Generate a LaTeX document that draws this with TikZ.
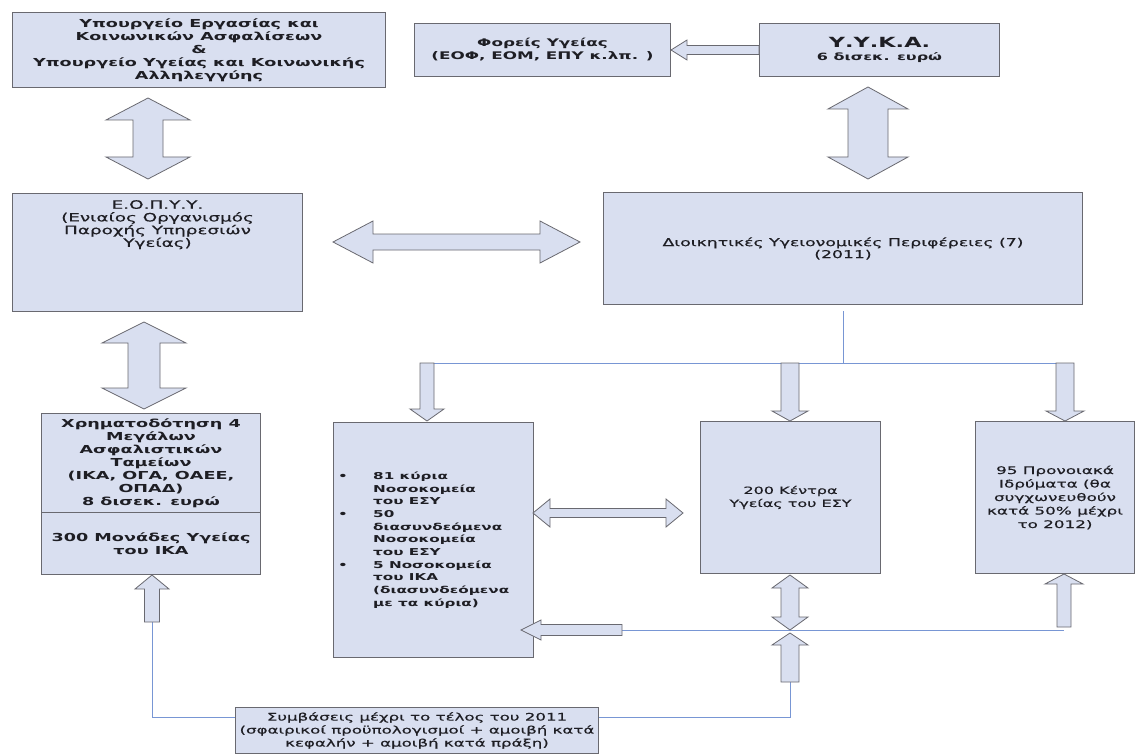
\documentclass[tikz,border=0pt]{standalone}
\usepackage{fontspec}
\setmainfont{DejaVu Sans}[FakeStretch=1.6, UprightFeatures={FakeBold=0.5}]
\usetikzlibrary{calc}
\definecolor{boxfill}{RGB}{217,223,240}
\definecolor{boxline}{RGB}{105,105,112}
\definecolor{linkblue}{RGB}{120,150,212}
\definecolor{inkgrey}{RGB}{30,30,36}
% block arrows: tail, tip, shaft half width, head half width, head length
\newcommand{\onearrow}[5]{%
  \coordinate (ta) at #1; \coordinate (tb) at #2;
  \coordinate (hb) at ($(tb)!#5pt!(ta)$);
  \draw[bigarrow] ($(ta)!#3pt!90:(tb)$) -- ($(hb)!#3pt!90:(tb)$) -- ($(hb)!#4pt!90:(tb)$)
    -- (tb) -- ($(hb)!#4pt!-90:(tb)$) -- ($(hb)!#3pt!-90:(tb)$) -- ($(ta)!#3pt!-90:(tb)$) -- cycle;}
\newcommand{\twoarrow}[5]{%
  \coordinate (ta) at #1; \coordinate (tb) at #2;
  \coordinate (ha) at ($(ta)!#5pt!(tb)$);
  \coordinate (hb) at ($(tb)!#5pt!(ta)$);
  \draw[bigarrow] (ta) -- ($(ha)!#4pt!90:(tb)$) -- ($(ha)!#3pt!90:(tb)$) -- ($(hb)!#3pt!-90:(ta)$)
    -- ($(hb)!#4pt!-90:(ta)$) -- (tb) -- ($(hb)!#4pt!90:(ta)$) -- ($(hb)!#3pt!90:(ta)$)
    -- ($(ha)!#3pt!-90:(tb)$) -- ($(ha)!#4pt!-90:(tb)$) -- cycle;}
\begin{document}
\begin{tikzpicture}[x=1pt,y=-1pt]
\tikzset{
  box/.style={draw=boxline, fill=boxfill, line width=1pt, inner sep=2pt, align=center,
    text=inkgrey, anchor=north west},
  boxsize/.style 2 args={minimum width=#1pt, minimum height=#2pt},
  bigarrow/.style={draw=boxline, fill=boxfill, line width=0.8pt, line join=miter},
  link/.style={draw=linkblue, line width=0.8pt},
  boldtext/.style={font=\bfseries\fontsize{11}{13}\selectfont},
  plaintext/.style={font=\fontsize{11.5}{12.7}\selectfont},
  smalltext/.style={font=\fontsize{10.8}{12}\selectfont}
}
\useasboundingbox[fill=white] (0,0) rectangle (1140,754);

\node[box, boxsize={373}{75}, boldtext] (ministry) at (12,12)
  {Υπουργείο Εργασίας και\\Κοινωνικών Ασφαλίσεων\\\&\\Υπουργείο Υγείας και Κοινωνικής\\Αλληλεγγύης};
\node[box, boxsize={256}{53}, font=\bfseries\fontsize{10.5}{13}\selectfont] (bodies) at (414,23)
  {Φορείς Υγείας\\(ΕΟΦ, ΕΟΜ, ΕΠΥ κ.λπ. )};
\node[box, boxsize={240}{53}, font=\bfseries\fontsize{10}{12}\selectfont] (yyka) at (759,23)
  {{\fontsize{14}{16}\selectfont Υ.Υ.Κ.Α.}\\[1pt]6 δισεκ. ευρώ};
\node[box, boxsize={290}{118}] (eopyy) at (12,193) {};
\node[anchor=north, align=center, text=inkgrey, inner sep=0pt, plaintext] (eopyytext)
  at ($(eopyy.north)+(0,7)$)
  {Ε.Ο.Π.Υ.Υ.\\(Ενιαίος Οργανισμός\\Παροχής Υπηρεσιών\\Υγείας)};
\node[box, boxsize={479}{112}, smalltext] (dype) at (603,192)
  {Διοικητικές Υγειονομικές Περιφέρειες (7)\\(2011)};
\node[box, boxsize={219}{99}, boldtext] (funds) at (41,413)
  {Χρηματοδότηση 4\\Μεγάλων\\Ασφαλιστικών\\Ταμείων\\(ΙΚΑ, ΟΓΑ, ΟΑΕΕ,\\ΟΠΑΔ)\\8 δισεκ. ευρώ};
\node[box, boxsize={219}{62}, boldtext] (ikaunits) at (41,512)
  {300 Μονάδες Υγείας\\του ΙΚΑ};
\node[box, boxsize={200}{235}] (hospitals) at (333,422) {};
\node[anchor=west, align=left, text=inkgrey, inner sep=0pt,
  font=\bfseries\fontsize{9.5}{12.7}\selectfont] (hosplist) at ($(hospitals.west)+(5,0)$)
  {\makebox[35pt][l]{•}81 κύρια\\\hspace*{35pt}Νοσοκομεία\\\hspace*{35pt}του ΕΣΥ\\
   \makebox[35pt][l]{•}50\\\hspace*{35pt}διασυνδεόμενα\\\hspace*{35pt}Νοσοκομεία\\\hspace*{35pt}του ΕΣΥ\\
   \makebox[35pt][l]{•}5 Νοσοκομεία\\\hspace*{35pt}του ΙΚΑ\\\hspace*{35pt}(διασυνδεόμενα\\\hspace*{35pt}με τα κύρια)};
\node[box, boxsize={180}{152}, font=\fontsize{10}{13}\selectfont] (centres) at (700,421)
  {200 Κέντρα\\Υγείας του ΕΣΥ};
\node[box, boxsize={159}{152}, font=\fontsize{10.5}{13.5}\selectfont] (welfare) at (975,421)
  {95 Προνοιακά\\Ιδρύματα (θα\\συγχωνευθούν\\κατά 50\% μέχρι\\το 2012)};
\node[box, boxsize={363}{46}, font=\fontsize{10.4}{13}\selectfont] (contracts) at (235,707)
  {Συμβάσεις μέχρι το τέλος του 2011\\(σφαιρικοί προϋπολογισμοί + αμοιβή κατά\\κεφαλήν + αμοιβή κατά πράξη)};

\coordinate (split) at (843,363);
\coordinate (feedL) at (427,363);
\coordinate (feedM) at (790,363);
\coordinate (feedR) at (1065,363);
\coordinate (backL) at (622,630);
\coordinate (hub) at (790,630);
\coordinate (backR) at (1064,630);
\coordinate (hubtail) at (790,682);
\coordinate (ikatail) at (152,622);

\draw[link] ($(dype.south)+(0,6)$) -- (split);
\draw[link] (feedL) -- (feedR);
\draw[link] (backL) -- (backR);
\draw[link] ($(contracts.north east)+(0,10)$) -| (hubtail);
\draw[link] ($(contracts.north west)+(0,10)$) -| (ikatail);

\twoarrow{(148,98)}{(148,179)}{15}{42}{22}
\onearrow{(yyka.west)}{(bodies.east)}{4.5}{10}{16}
\twoarrow{(868,87)}{(868,179)}{20}{40}{22}
\twoarrow{(333,242)}{(580,242)}{8}{21}{40}
\twoarrow{(144,322)}{(144,409)}{16}{42}{21}
\onearrow{(feedL)}{(427,421)}{7}{17}{12}
\onearrow{(feedM)}{(790,421)}{9}{18}{10}
\onearrow{(feedR)}{(1065,421)}{9}{19}{10}
\twoarrow{(533,513)}{(683,513)}{4.5}{14}{17}
\twoarrow{(790,575)}{(hub)}{9}{18}{13}
\onearrow{(hubtail)}{(790,633)}{9}{18}{12}
\onearrow{(1064,627)}{(1064,574)}{7}{19}{10}
\onearrow{(backL)}{(521,630)}{5.5}{10}{20}
\onearrow{(ikatail)}{(152,575)}{7.5}{17}{14}
\end{tikzpicture}
\end{document}
